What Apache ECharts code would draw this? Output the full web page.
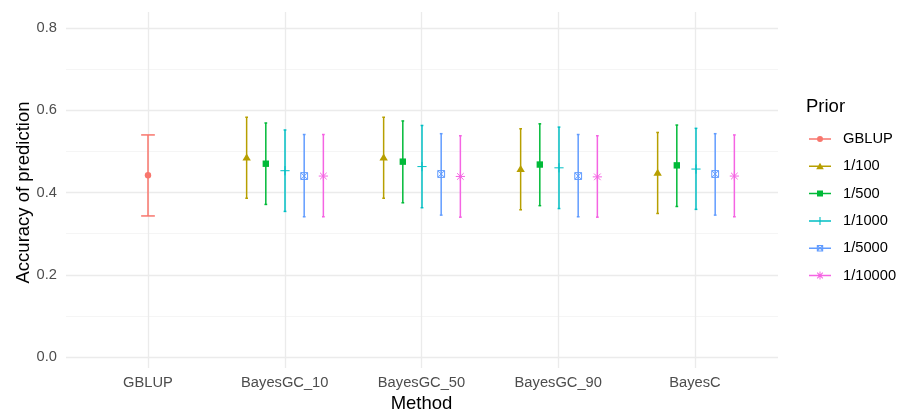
<!DOCTYPE html>
<html>
<head>
<meta charset="utf-8">
<script src="https://cdn.jsdelivr.net/npm/echarts@6/dist/echarts.min.js"></script>
<style>
  html, body { margin: 0; padding: 0; background: #fff; }
  #chart { width: 912px; height: 418px; }
</style>
</head>
<body>
<div id="chart"></div>
<script>
// categories on the x axis
const methods = ['GBLUP', 'BayesGC_10', 'BayesGC_50', 'BayesGC_90', 'BayesC']
const priors = ['GBLUP', '1/100', '1/500', '1/1000', '1/5000', '1/10000']

// accuracy (mean, lower, upper) per prior, one value per method; null = not run
const meanGBLUP = [0.442, null, null, null, null]
const lowGBLUP = [0.343, null, null, null, null]
const highGBLUP = [0.540, null, null, null, null]

const mean100 = [null, 0.485, 0.485, 0.457, 0.448]
const low100 = [null, 0.386, 0.386, 0.358, 0.349]
const high100 = [null, 0.583, 0.583, 0.555, 0.546]

const mean500 = [null, 0.470, 0.475, 0.468, 0.466]
const low500 = [null, 0.371, 0.375, 0.368, 0.366]
const high500 = [null, 0.569, 0.574, 0.567, 0.564]

const mean1000 = [null, 0.453, 0.463, 0.460, 0.457]
const low1000 = [null, 0.354, 0.363, 0.361, 0.359]
const high1000 = [null, 0.552, 0.563, 0.559, 0.556]

const mean5000 = [null, 0.440, 0.445, 0.440, 0.445]
const low5000 = [null, 0.341, 0.345, 0.341, 0.345]
const high5000 = [null, 0.541, 0.543, 0.541, 0.543]

const mean10000 = [null, 0.440, 0.439, 0.438, 0.440]
const low10000 = [null, 0.341, 0.340, 0.340, 0.341]
const high10000 = [null, 0.541, 0.538, 0.538, 0.540]

const yTicks = [0, 0.2, 0.4, 0.6, 0.8]

// ggplot hue palette
const colors = ['#F8766D', '#B79F00', '#00BA38', '#00BFC4', '#619CFF', '#F564E3']
const shapes = ['circle', 'triangle', 'square', 'plus', 'squareX', 'asterisk']

const seriesValues = [
  [meanGBLUP, lowGBLUP, highGBLUP],
  [mean100, low100, high100],
  [mean500, low500, high500],
  [mean1000, low1000, high1000],
  [mean5000, low5000, high5000],
  [mean10000, low10000, high10000]
]

const DODGE = 0.7
const CAP = 0.1
const LW = 1.5

// symbol as graphic elements around (x, y)
function symbolEls(shape, x, y, color) {
  const ln = (x1, y1, x2, y2, w) => ({
    type: 'line', shape: { x1, y1, x2, y2 }, style: { stroke: color, lineWidth: w || 1 }
  })
  switch (shape) {
    case 'circle':
      return [{ type: 'circle', shape: { cx: x, cy: y, r: 3.2 }, style: { fill: color } }]
    case 'triangle':
      return [{ type: 'polygon', shape: { points: [[x, y - 4], [x + 4.2, y + 3], [x - 4.2, y + 3]] }, style: { fill: color } }]
    case 'square':
      return [{ type: 'rect', shape: { x: x - 3.2, y: y - 3.2, width: 6.4, height: 6.4 }, style: { fill: color } }]
    case 'plus':
      return [ln(x - 4.6, y, x + 4.6, y), ln(x, y - 4.6, x, y + 4.6)]
    case 'squareX':
      return [
        { type: 'rect', shape: { x: x - 3.4, y: y - 3.4, width: 6.8, height: 6.8 }, style: { fill: null, stroke: color, lineWidth: 1 } },
        ln(x - 3.4, y - 3.4, x + 3.4, y + 3.4), ln(x - 3.4, y + 3.4, x + 3.4, y - 3.4)
      ]
    case 'asterisk':
      return [
        ln(x - 4.6, y, x + 4.6, y), ln(x, y - 4.6, x, y + 4.6),
        ln(x - 3.3, y - 3.3, x + 3.3, y + 3.3), ln(x - 3.3, y + 3.3, x + 3.3, y - 3.3)
      ]
  }
  return []
}

// legend key icons: horizontal line + point shape, 22 x 8 box
const hair = 'M0 0h0.01v8H0z '
const keyLine = 'M0 3.25h22v1.5H0z '
const legendIcons = {
  circle: 'M8 4a3 3 0 1 1 6 0a3 3 0 1 1 -6 0z',
  triangle: 'M11 0.4L14.8 7H7.2z',
  square: 'M8 1h6v6H8z',
  plus: 'M10.45 0h1.1v8h-1.1z M6.8 3.45h8.4v1.1H6.8z',
  squareX: 'M7.8 0.8h6.4v6.4H7.8z M8.8 1.8v4.4h4.4V1.8z M7.9 1.6L8.6 0.9L14.1 6.4L13.4 7.1z M13.4 0.9L14.1 1.6L8.6 7.1L7.9 6.4z',
  asterisk: 'M10.5 0h1v8h-1z M7.8 1.5L8.5 0.8L14.2 6.5L13.5 7.2z M13.5 0.8L14.2 1.5L8.5 7.2L7.8 6.5z'
}

function groupSize(catIdx) {
  return seriesValues.filter(v => v[0][catIdx] != null).length
}
function groupSlot(p, catIdx) {
  let k = 0
  for (let i = 0; i < p; i++) if (seriesValues[i][0][catIdx] != null) k++
  return k
}

const series = priors.map((name, p) => {
  const [m, lo, hi] = seriesValues[p]
  const data = []
  m.forEach((v, i) => { if (v != null) data.push([i, lo[i], v, hi[i]]) })
  return {
    name,
    type: 'custom',
    xAxisIndex: 2,
    yAxisIndex: 2,
    itemStyle: { color: colors[p] },
    data,
    renderItem(params, api) {
      const cat = api.value(0)
      const n = groupSize(cat)
      const slot = groupSlot(p, cat)
      const band = api.size([1, 0])[0]
      const off = (slot - (n - 1) / 2) * (DODGE / n) * band
      const capHalf = (CAP / n) * band / 2
      const mid = api.coord([cat, api.value(2)])
      const x = mid[0] + off
      const yLo = api.coord([cat, api.value(1)])[1]
      const yHi = api.coord([cat, api.value(3)])[1]
      const c = colors[p]
      const st = { stroke: c, lineWidth: LW }
      return {
        type: 'group',
        children: [
          { type: 'line', shape: { x1: x, y1: yLo, x2: x, y2: yHi }, style: st },
          { type: 'line', shape: { x1: x - capHalf, y1: yLo, x2: x + capHalf, y2: yLo }, style: st },
          { type: 'line', shape: { x1: x - capHalf, y1: yHi, x2: x + capHalf, y2: yHi }, style: st }
        ].concat(symbolEls(shapes[p], x, mid[1], c))
      }
    }
  }
})

const chart = echarts.init(document.getElementById('chart'))
chart.setOption({
  animation: false,
  backgroundColor: '#fff',
  textStyle: { fontFamily: 'Liberation Sans, Arial, sans-serif' },
  title: {
    text: 'Prior',
    left: 806,
    top: 97,
    padding: 0,
    textStyle: { fontSize: 18.5, fontWeight: 'normal', color: '#000' }
  },
  legend: {
    orient: 'vertical',
    left: 809,
    top: 131,
    padding: 0,
    itemWidth: 22,
    itemHeight: 8,
    itemGap: 11.3,
    selectedMode: false,
    textStyle: { fontSize: 14.7, color: '#000', lineHeight: 16, padding: [0, 0, 0, 7] },
    data: priors.map((name, p) => ({ name, icon: 'path://' + hair + keyLine + legendIcons[shapes[p]] }))
  },
  grid: [
    // horizontal grid lines + y labels
    { left: 66, right: 134, top: 28, bottom: 61 },
    // vertical lines at category centres + x labels
    { left: 148, right: 217, top: 12, bottom: 45 },
    // data: category bands centred on the same positions
    { left: 79.5, right: 147.5, top: 28, bottom: 61 }
  ],
  xAxis: [
    { type: 'category', gridIndex: 0, data: methods, show: false },
    {
      type: 'category',
      gridIndex: 1,
      data: methods,
      boundaryGap: false,
      name: 'Method',
      nameLocation: 'middle',
      nameGap: 26,
      nameMoveOverlap: false,
      nameTextStyle: { fontSize: 18.5, color: '#000' },
      axisLine: { show: false },
      axisTick: { show: false },
      axisLabel: { margin: 7, fontSize: 14.7, color: '#4D4D4D' },
      splitLine: { show: true, lineStyle: { color: '#EBEBEB', width: 1.3 } }
    },
    { type: 'category', gridIndex: 2, data: methods, show: false }
  ],
  yAxis: [
    {
      type: 'value',
      gridIndex: 0,
      min: yTicks[0],
      max: yTicks[yTicks.length - 1],
      interval: 0.2,
      name: 'Accuracy of prediction',
      nameLocation: 'middle',
      nameGap: 33,
      nameMoveOverlap: false,
      nameTextStyle: { fontSize: 18.5, color: '#000' },
      axisLine: { show: false },
      axisTick: { show: false },
      axisLabel: { margin: 9, fontSize: 14.7, color: '#4D4D4D', formatter: v => v.toFixed(1) },
      splitLine: { show: true, lineStyle: { color: '#EBEBEB', width: 1.3 } },
      minorTick: { show: false, splitNumber: 2 },
      minorSplitLine: { show: true, lineStyle: { color: '#F2F2F2', width: 0.8 } }
    },
    {
      type: 'value',
      gridIndex: 1,
      min: -0.04,
      max: 0.84,
      interval: 0.04,
      show: false,
      splitLine: { show: false }
    },
    {
      type: 'value',
      gridIndex: 2,
      min: yTicks[0],
      max: yTicks[yTicks.length - 1],
      interval: 0.2,
      show: false,
      splitLine: { show: false }
    }
  ],
  series
})
</script>
</body>
</html>
